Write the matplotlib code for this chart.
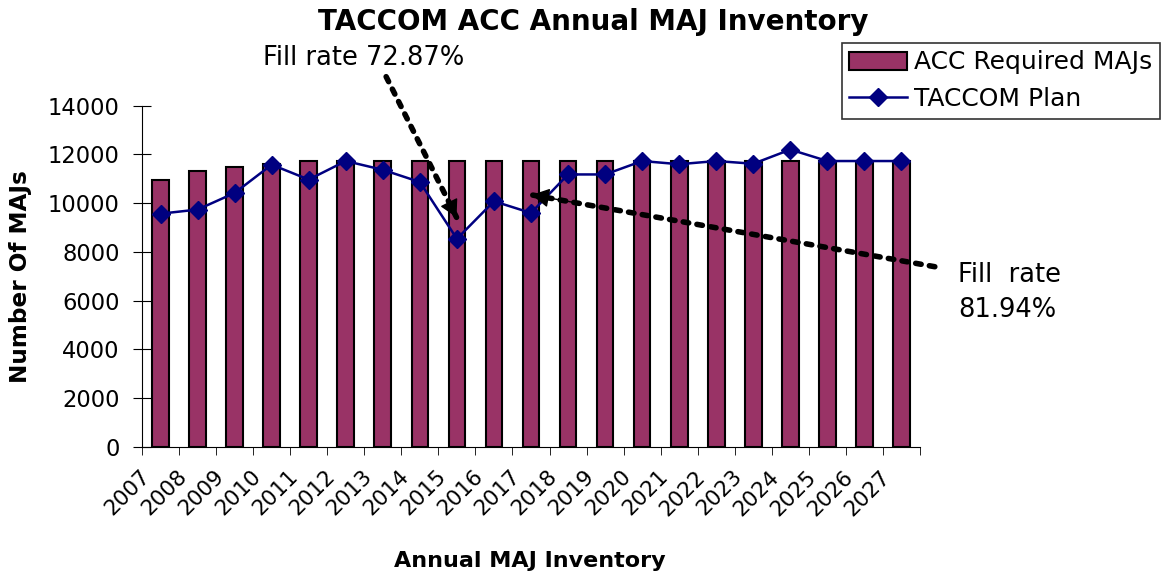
import numpy as np
import matplotlib
matplotlib.use("Agg")
import matplotlib.pyplot as plt
import matplotlib.transforms as mtransforms

years = [str(y) for y in range(2007, 2028)]
required = [10950, 11330, 11470, 11600, 11720, 11750, 11750, 11750, 11750, 11750, 11750,
            11750, 11750, 11750, 11750, 11750, 11750, 11750, 11750, 11750, 11750]
plan = [9570, 9740, 10420, 11580, 10970, 11730, 11370, 10870, 8540, 10080, 9600,
        11180, 11180, 11730, 11600, 11730, 11620, 12200, 11730, 11730, 11730]

plt.rcParams['font.family'] = ['DejaVu Sans']

W, H = 1162, 582
fig = plt.figure(figsize=(W / 100, H / 100), dpi=100)
ax = fig.add_axes([142 / W, 1 - 447 / H, 778 / W, 341.3 / H])

x = np.arange(len(years))
bars = ax.bar(x, required, width=0.45, color='#993366', edgecolor='black', linewidth=1.5,
              label='ACC Required MAJs', zorder=2)
line, = ax.plot(x, plan, color='#000080', marker='D', markersize=9, linewidth=1.8,
                label='TACCOM Plan', zorder=3)

ax.set_xlim(-0.5, len(years) - 0.5)
ax.set_ylim(0, 14000)
ax.set_yticks(range(0, 14001, 2000))
ax.set_xticks(x)
ax.set_xticklabels(years, rotation=45, ha='right')
ax.set_xticks(np.arange(-0.5, len(years)), minor=True)
ax.tick_params(axis='x', which='major', length=0, labelsize=15.5, pad=14)
ax.tick_params(axis='x', which='minor', length=6, direction='out')
ax.tick_params(axis='y', labelsize=16.3, length=13, direction='inout', pad=9.5)
for s in ['top', 'right']:
    ax.spines[s].set_visible(False)

# nudge the rotated year labels a little to the left
shift = mtransforms.ScaledTranslation(-7 / 100, 0, fig.dpi_scale_trans)
for lbl in ax.get_xticklabels():
    lbl.set_transform(lbl.get_transform() + shift)

fig.text(530 / W, 1 - 567 / H, 'Annual MAJ Inventory', ha='center', va='baseline',
         fontsize=16, fontweight='bold')
fig.text(21 / W, 1 - 276.5 / H, 'Number Of MAJs', ha='center', va='center',
         rotation=90, fontsize=16.7, fontweight='bold')
fig.text(593 / W, 1 - 30 / H, 'TACCOM ACC Annual MAJ Inventory', ha='center',
         va='baseline', fontsize=20, fontweight='bold')

# dotted arrows with solid heads
dots = dict(arrowstyle='-', lw=4, linestyle=(0, (1, 1.5)), color='black',
            shrinkA=0, shrinkB=0)
head = dict(arrowstyle='-|>,head_length=0.4,head_width=0.22', lw=1, color='black',
            mutation_scale=27, shrinkA=0, shrinkB=0)
arrows = [((7.99, 9420), (6.09, 15190)), ((10.02, 10340), (20.9, 7395))]
for tip, start in arrows:
    ax.annotate('', xy=tip, xytext=start, arrowprops=dots, annotation_clip=False)
    near = (tip[0] + 0.1 * (start[0] - tip[0]), tip[1] + 0.1 * (start[1] - tip[1]))
    ax.annotate('', xy=tip, xytext=near, arrowprops=head, annotation_clip=False)

fig.text(262.7 / W, 1 - 65 / H, 'Fill rate 72.87%', ha='left', va='baseline', fontsize=18.5)
fig.text(958.3 / W, 1 - 281.7 / H, 'Fill  rate', ha='left', va='baseline', fontsize=18.5)
fig.text(958.3 / W, 1 - 316.7 / H, '81.94%', ha='left', va='baseline', fontsize=18.5)

leg = fig.legend([bars, line], ['ACC Required MAJs', 'TACCOM Plan'], loc='upper right',
                 bbox_to_anchor=(1160 / W, 1 - 43 / H), fontsize=18, frameon=True,
                 fancybox=False, handlelength=2.3, borderpad=0.3, labelspacing=0.5,
                 handletextpad=0.3, borderaxespad=0)
leg.get_frame().set_edgecolor('black')
leg.get_frame().set_linewidth(1.2)

fig.savefig('out.png', dpi=100)
